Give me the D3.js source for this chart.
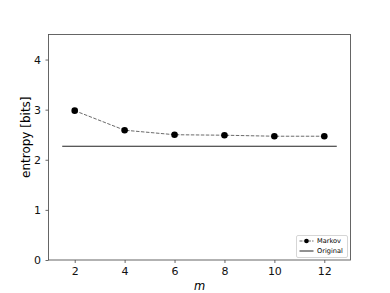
<!DOCTYPE html>
<html>
<head>
<meta charset="utf-8">
<script src="https://cdn.jsdelivr.net/npm/d3@7"></script>
<style>
  body { margin: 0; background: #fff; }
  text { font-family: "DejaVu Sans", sans-serif; }
</style>
</head>
<body>
<div id="chart"></div>
<script>
// values
var orders = [2, 4, 6, 8, 10, 12];
var markovEntropy = [2.98, 2.59, 2.50, 2.49, 2.47, 2.47];
var originalEntropy = 2.27;
var originalSpan = [1.5, 12.5];
var xTicks = [2, 4, 6, 8, 10, 12];
var yTicks = [0, 1, 2, 3, 4];

var width = 390, height = 293;
var margin = {left: 48.5, right: 39.5, top: 34.5, bottom: 33};

var svg = d3.select('#chart').append('svg')
    .attr('width', width)
    .attr('height', height);

var x = d3.scaleLinear().domain([0.95, 13.05]).range([margin.left, width - margin.right]);
var y = d3.scaleLinear().domain([0, 4.5]).range([height - margin.bottom, margin.top]);

// axes
var xAxis = svg.append('g')
    .attr('transform', 'translate(0,' + (height - margin.bottom) + ')')
    .call(d3.axisBottom(x).tickValues(xTicks).tickSize(3).tickPadding(4.5).tickFormat(d3.format('d')));
var yAxis = svg.append('g')
    .attr('transform', 'translate(' + margin.left + ',0)')
    .call(d3.axisLeft(y).tickValues(yTicks).tickSize(3).tickPadding(4.5).tickFormat(d3.format('d')));
[xAxis, yAxis].forEach(function(a) {
    a.select('.domain').remove();
    a.selectAll('line').attr('stroke', '#444').attr('stroke-width', 0.8);
    a.selectAll('text').attr('fill', '#111').style('font-size', '11px')
        .style('font-family', '"DejaVu Sans", sans-serif');
});

// frame
svg.append('rect')
    .attr('x', margin.left).attr('y', margin.top)
    .attr('width', width - margin.left - margin.right)
    .attr('height', height - margin.top - margin.bottom)
    .attr('fill', 'none').attr('stroke', '#555').attr('stroke-width', 0.9);

// original reference line
svg.append('line')
    .attr('x1', x(originalSpan[0])).attr('x2', x(originalSpan[1]))
    .attr('y1', y(originalEntropy)).attr('y2', y(originalEntropy))
    .attr('stroke', '#222').attr('stroke-width', 1.2);

// markov series
var pts = orders.map(function(m, i) { return [m, markovEntropy[i]]; });
svg.append('path')
    .datum(pts)
    .attr('d', d3.line().x(function(d) { return x(d[0]); }).y(function(d) { return y(d[1]); }))
    .attr('fill', 'none').attr('stroke', '#444').attr('stroke-width', 0.8)
    .attr('stroke-dasharray', '3.5,1.5');
svg.selectAll('circle.pt')
    .data(pts).enter()
    .append('circle')
    .attr('class', 'pt')
    .attr('cx', function(d) { return x(d[0]); })
    .attr('cy', function(d) { return y(d[1]); })
    .attr('r', 3.3)
    .attr('fill', '#000');

// axis labels
svg.append('text')
    .attr('x', x(7)).attr('y', 290)
    .attr('text-anchor', 'middle')
    .style('font-size', '11.5px').style('font-style', 'italic')
    .text('m');
svg.append('text')
    .attr('transform', 'translate(29.5,' + y(2.45) + ') rotate(-90)')
    .attr('text-anchor', 'middle')
    .style('font-size', '12px')
    .text('entropy [bits]');

// legend
var lg = svg.append('g').attr('transform', 'translate(296.5,235.5)');
lg.append('rect')
    .attr('width', 51).attr('height', 22).attr('rx', 1.5)
    .attr('fill', '#fff').attr('stroke', '#ccc').attr('stroke-width', 0.8);
lg.append('line').attr('x1', 3).attr('x2', 17).attr('y1', 5.5).attr('y2', 5.5)
    .attr('stroke', '#444').attr('stroke-width', 0.8).attr('stroke-dasharray', '3,1.2');
lg.append('circle').attr('cx', 10).attr('cy', 5.5).attr('r', 2.3).attr('fill', '#000');
lg.append('line').attr('x1', 3).attr('x2', 17).attr('y1', 15.5).attr('y2', 15.5)
    .attr('stroke', '#222').attr('stroke-width', 1);
lg.append('text').attr('x', 20.5).attr('y', 7.8).style('font-size', '6.6px').text('Markov');
lg.append('text').attr('x', 20.5).attr('y', 17.8).style('font-size', '6.6px').text('Original');
</script>
</body>
</html>
